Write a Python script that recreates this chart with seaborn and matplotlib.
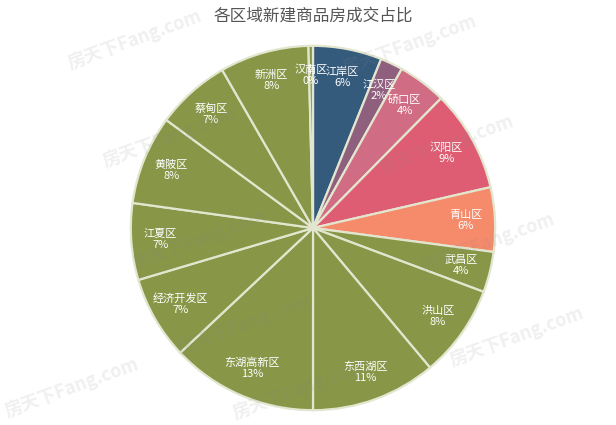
import numpy as np
import pandas as pd
import matplotlib
matplotlib.use("Agg")
import matplotlib.pyplot as plt
import seaborn as sns

# 区域与成交占比
districts = ["江岸区", "江汉区", "硚口区", "汉阳区", "青山区", "武昌区", "洪山区",
             "东西湖区", "东湖高新区", "经济开发区", "江夏区", "黄陂区", "蔡甸区",
             "新洲区", "汉南区"]
shares = [6.1, 2.0, 4.3, 9.0, 5.7, 3.6, 8.2, 11.1, 13.0, 7.4, 6.8, 7.9, 6.6, 7.9, 0.4]
slice_colors = ["#345a7c", "#8f5f7e", "#d06c83", "#de5d73", "#f58b6b"] + ["#879647"] * 10

title = "各区域新建商品房成交占比"
watermark = "房天下Fang.com"
wm_pos = [(135, 40), (410, 45), (170, 138), (447, 145),
          (200, 240), (488, 243), (245, 325), (517, 337),
          (72, 388), (300, 390)]

df = pd.DataFrame({"district": districts, "share": shares})

sns.set_theme(style="white")
plt.rcParams["font.family"] = ["Noto Sans CJK SC", "DejaVu Sans"]

W, H = 616, 425
fig = plt.figure(figsize=(W / 100, H / 100), dpi=100)
cx, cy, r = 313, 228, 184
ax = fig.add_axes([(cx - r) / W, (H - cy - r) / H, 2 * r / W, 2 * r / H])

wedges, texts, autotexts = ax.pie(
    df["share"], colors=slice_colors, startangle=90, counterclock=False,
    autopct="%.0f%%", pctdistance=0.84,
    wedgeprops=dict(edgecolor="#e3e6cf", linewidth=1.6),
    textprops=dict(color="white", fontsize=8, linespacing=1.15))
for t, name in zip(autotexts, df["district"]):
    t.set_text(name + "\n" + t.get_text())
    t.set_ha("center")
    t.set_va("center")
ax.set_xlim(-1.01, 1.01)
ax.set_ylim(-1.01, 1.01)
ax.set_aspect("equal")

fig.text(0.5 * (2 * cx) / W, 1 - 16 / H, title, ha="center", va="center",
         fontsize=12, color="#555555")

for x, y in wm_pos:
    fig.text(x / W, 1 - y / H, watermark, ha="center", va="center",
             fontsize=13, fontweight="bold", color="#888888", alpha=0.13,
             rotation=20)

fig.savefig("out.png", dpi=100)
